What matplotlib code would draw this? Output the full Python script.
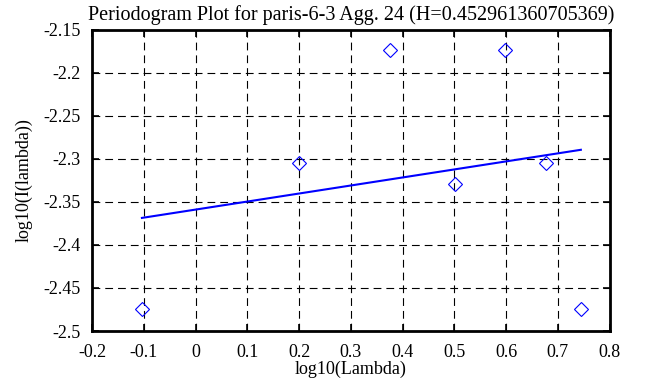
import matplotlib
matplotlib.use("Agg")
import matplotlib.pyplot as plt

# periodogram points (log10 of frequency, log10 of intensity)
log_lambda = [-0.1035, 0.1994, 0.3754, 0.5004, 0.5974, 0.677, 0.7443]
log_i = [-2.4748, -2.305, -2.1733, -2.3294, -2.1733, -2.3043, -2.4748]

# fitted line endpoints
fit_x = [-0.1035, 0.7443]
fit_y = [-2.3685, -2.2893]

x_ticks = [-0.2, -0.1, 0, 0.1, 0.2, 0.3, 0.4, 0.5, 0.6, 0.7, 0.8]
x_tick_labels = ["-0.2", "-0.1", "0", "0.1", "0.2", "0.3", "0.4", "0.5", "0.6", "0.7", "0.8"]
y_ticks = [-2.5, -2.45, -2.4, -2.35, -2.3, -2.25, -2.2, -2.15]
y_tick_labels = ["-2.5", "-2.45", "-2.4", "-2.35", "-2.3", "-2.25", "-2.2", "-2.15"]

title = "Periodogram Plot for paris-6-3 Agg. 24 (H=0.452961360705369)"

plt.rcParams["font.family"] = ["Liberation Serif", "DejaVu Serif"]
plt.rcParams["font.size"] = 13

fig = plt.figure(figsize=(6.57, 3.87), dpi=100)
ax = fig.add_axes([0.140, 0.1447, 0.788, 0.7778])

ax.plot(log_lambda, log_i, linestyle="none", marker="D", markersize=7.2,
        markerfacecolor="none", markeredgecolor="#0000ff", markeredgewidth=0.8)
ax.plot(fit_x, fit_y, color="#0000ff", linewidth=1.5)

ax.set_xlim(-0.2, 0.8)
ax.set_ylim(-2.5, -2.15)
ax.set_xticks(x_ticks)
ax.set_xticklabels(x_tick_labels)
ax.set_yticks(y_ticks)
ax.set_yticklabels(y_tick_labels)

ax.grid(True, color="black", linestyle=(0, (7, 4.5)), linewidth=0.8)
ax.tick_params(direction="in", length=5, width=1.2, top=True, right=True,
               colors="black")
ax.tick_params(axis="y", pad=8)
ax.tick_params(axis="x", pad=9)
for s in ax.spines.values():
    s.set_linewidth(2)
    s.set_color("black")

ax.set_title(title, fontsize=14.5, pad=7)
ax.set_xlabel("log10(Lambda)", labelpad=0)
ax.set_ylabel("log10(I(lambda))", labelpad=8)

fig.savefig("out.png", dpi=100)
